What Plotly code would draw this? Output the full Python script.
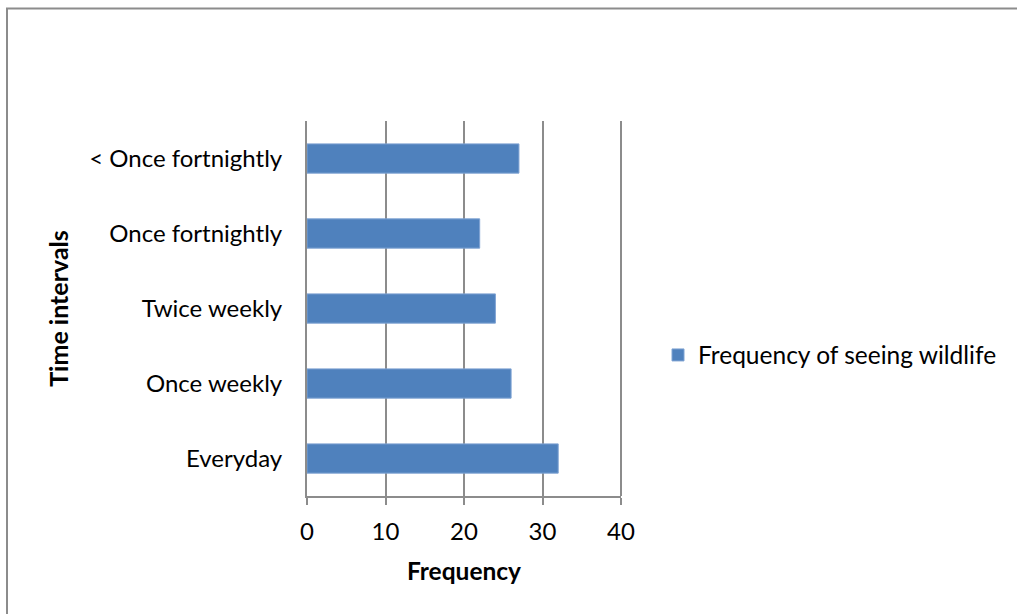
import plotly.graph_objects as go

# Survey responses: how often wildlife is seen
intervals = ["Everyday", "Once weekly", "Twice weekly", "Once fortnightly", "< Once fortnightly"]
frequency = [32, 26, 24, 22, 27]
series_name = "Frequency of seeing wildlife"
x_ticks = [0, 10, 20, 30, 40]

W, H = 1017, 614
L, R, T, B = 307, 396, 121, 118
pw, ph = W - L - R, H - T - B

def px_x(x):
    return (x - L) / pw

def px_y(y):
    return (H - B - y) / ph

FONT = "Lato"
GRID = "#8C8C8C"

fig = go.Figure(
    go.Bar(
        x=frequency,
        y=intervals,
        orientation="h",
        name=series_name,
        marker=dict(color="#4F81BD", line=dict(color="#7FA3D3", width=1)),
        showlegend=True,
    )
)

shapes = [
    # chart frame: top and left edges
    dict(type="line", xref="paper", yref="paper",
         x0=px_x(6), x1=px_x(1017), y0=px_y(8.5), y1=px_y(8.5),
         line=dict(color=GRID, width=2)),
    dict(type="line", xref="paper", yref="paper",
         x0=px_x(7), x1=px_x(7), y0=px_y(8), y1=px_y(614),
         line=dict(color=GRID, width=2)),
    # gridline at the right end of the value axis (range ends at the last tick)
    dict(type="line", xref="paper", yref="paper",
         x0=1, x1=1, y0=0, y1=1,
         line=dict(color=GRID, width=2), layer="below"),
]

fig.update_layout(
    width=W,
    height=H,
    margin=dict(l=L, r=R, t=T, b=B, autoexpand=False),
    paper_bgcolor="white",
    plot_bgcolor="white",
    bargap=0.61,
    font=dict(family=FONT, size=24, color="black"),
    showlegend=True,
    legend=dict(
        x=px_x(658),
        y=px_y(355),
        xanchor="left",
        yanchor="middle",
        font=dict(family=FONT, size=24.5, color="black"),
        itemwidth=30,
        bgcolor="rgba(0,0,0,0)",
    ),
    xaxis=dict(
        range=[x_ticks[0], x_ticks[-1]],
        tickvals=x_ticks,
        showgrid=True,
        gridcolor=GRID,
        gridwidth=2,
        zeroline=False,
        showline=True,
        linecolor=GRID,
        linewidth=2,
        ticks="outside",
        ticklen=7,
        tickwidth=2,
        tickcolor=GRID,
        tickfont=dict(family=FONT, size=24, color="black"),
        ticklabelstandoff=6,
        title=dict(text="<b>Frequency</b>", font=dict(family=FONT, size=24.5, color="black"), standoff=19),
        fixedrange=True,
    ),
    yaxis=dict(
        showgrid=False,
        zeroline=False,
        showline=True,
        linecolor=GRID,
        linewidth=2,
        ticks="",
        tickfont=dict(family=FONT, size=24, color="black"),
        ticklabelstandoff=18,
        title=dict(text="<b>Time intervals</b>", font=dict(family=FONT, size=25, color="black"), standoff=13),
        fixedrange=True,
    ),
    shapes=shapes,
)

fig.write_html("out.html")
